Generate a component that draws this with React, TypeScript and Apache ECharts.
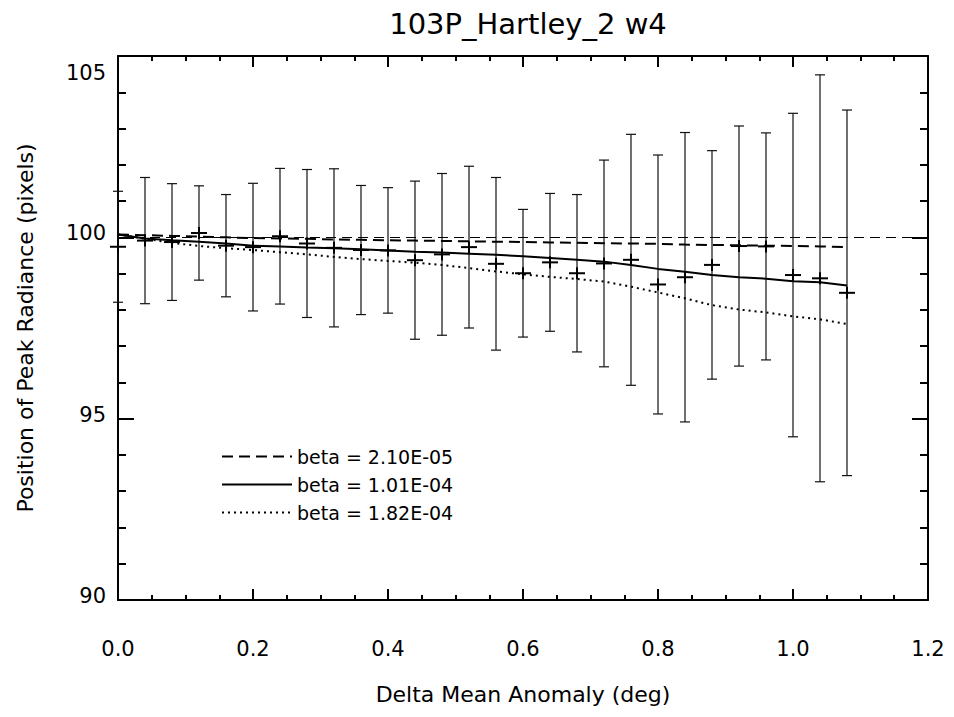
import React, { useEffect, useRef } from "react";
import * as echarts from "echarts";

// ---- Data ----
const deltaMeanAnomaly = [
  0.0, 0.04, 0.08, 0.12, 0.16, 0.2, 0.24, 0.28, 0.32, 0.36, 0.4, 0.44, 0.48, 0.52,
  0.56, 0.6, 0.64, 0.68, 0.72, 0.76, 0.8, 0.84, 0.88, 0.92, 0.96, 1.0, 1.04, 1.08,
];
const peakPosition = [
  99.74, 99.91, 99.87, 100.12, 99.77, 99.73, 100.03, 99.83, 99.71, 99.65, 99.64, 99.37,
  99.53, 99.73, 99.27, 99.01, 99.31, 99.01, 99.28, 99.38, 98.7, 98.9, 99.24, 99.76,
  99.75, 98.96, 98.87, 98.47,
];
const peakError = [
  1.53, 1.74, 1.61, 1.3, 1.41, 1.76, 1.87, 2.04, 2.18, 1.78, 1.73, 2.18, 2.23, 2.23,
  2.38, 1.76, 1.9, 2.17, 2.85, 3.46, 3.57, 3.99, 3.15, 3.31, 3.13, 4.46, 5.61, 5.04,
];
const modelBetaLow = [
  100.08, 100.06, 100.04, 100.02, 100.0, 99.98, 99.97, 99.96, 99.94, 99.93, 99.92, 99.91,
  99.9, 99.89, 99.88, 99.87, 99.86, 99.85, 99.84, 99.83, 99.82, 99.8, 99.79, 99.78,
  99.77, 99.76, 99.75, 99.73,
];
const modelBetaMid = [
  100.08, 99.97, 99.92, 99.88, 99.83, 99.77, 99.75, 99.72, 99.7, 99.67, 99.64, 99.6,
  99.58, 99.55, 99.52, 99.48, 99.43, 99.38, 99.33, 99.24, 99.13, 99.05, 98.96, 98.9,
  98.86, 98.79, 98.76, 98.67,
];
const modelBetaHigh = [
  100.08, 99.96, 99.85, 99.76, 99.7, 99.65, 99.59, 99.53, 99.46, 99.4, 99.35, 99.3,
  99.24, 99.15, 99.06, 98.98, 98.91, 98.85, 98.78, 98.64, 98.48, 98.32, 98.13, 98.01,
  97.93, 97.82, 97.74, 97.61,
];
const seriesNames = ["beta = 2.10E-05", "beta = 1.01E-04", "beta = 1.82E-04"];
const referenceLevel = 100;
const chartTitle = "103P_Hartley_2 w4";
const xAxisTitle = "Delta Mean Anomaly (deg)";
const yAxisTitle = "Position of Peak Radiance (pixels)";
const xRange = [0, 1.2];
const yRange = [90, 105];

const FONT = "'DejaVu Sans', 'Noto Sans', sans-serif";
const BLACK = "#000";

const axisLine = { onZero: false, lineStyle: { color: BLACK, width: 2 } };

function makeXAxis(position: "bottom" | "top", showLabels: boolean) {
  return {
    type: "value",
    position,
    min: xRange[0],
    max: xRange[1],
    interval: 0.2,
    axisLine,
    axisTick: { show: true, inside: true, length: 11, lineStyle: { color: BLACK, width: 2 } },
    minorTick: { show: true, splitNumber: 4, length: 5, lineStyle: { color: BLACK, width: 2 } },
    splitLine: { show: false },
    minorSplitLine: { show: false },
    axisLabel: {
      show: showLabels,
      margin: 38,
      formatter: (v: number) => v.toFixed(1),
      fontSize: 21,
      fontFamily: FONT,
      color: BLACK,
    },
    ...(showLabels
      ? {
          name: xAxisTitle,
          nameLocation: "middle",
          nameGap: 83,
          nameTextStyle: { fontSize: 22, fontFamily: FONT, color: BLACK },
        }
      : {}),
  };
}

function makeYAxis(position: "left" | "right", showLabels: boolean) {
  return {
    type: "value",
    position,
    min: yRange[0],
    max: yRange[1],
    interval: 5,
    axisLine,
    axisTick: { show: true, inside: true, length: 16, lineStyle: { color: BLACK, width: 2 } },
    minorTick: { show: true, splitNumber: 5, length: 8, lineStyle: { color: BLACK, width: 2 } },
    splitLine: { show: false },
    minorSplitLine: { show: false },
    axisLabel: {
      show: showLabels,
      margin: 12,
      formatter: (v: number) => (v === yRange[1] ? `{top|${v}}` : `{std|${v}}`),
      rich: {
        top: { fontSize: 21, fontFamily: FONT, color: BLACK, padding: [34, 0, 0, 0] },
        std: { fontSize: 21, fontFamily: FONT, color: BLACK, padding: [0, 0, 8, 0] },
      },
    },
    ...(showLabels
      ? {
          name: yAxisTitle,
          nameLocation: "middle",
          nameGap: 82,
          nameTextStyle: { fontSize: 22, fontFamily: FONT, color: BLACK },
        }
      : {}),
  };
}

function lineSeries(name: string, values: number[], type: any, extra: any = {}) {
  return {
    name,
    type: "line",
    xAxisIndex: 0,
    yAxisIndex: 0,
    symbol: "none",
    showSymbol: false,
    itemStyle: { color: BLACK },
    lineStyle: { color: BLACK, width: 2, type },
    data: deltaMeanAnomaly.map((x, i) => [x, values[i]]),
    z: 4,
    ...extra,
  };
}

function renderErrorBar(params: any, api: any) {
  const x = api.value(0);
  const v = api.value(1);
  const e = api.value(2);
  const top = api.coord([x, v + e]);
  const bot = api.coord([x, v - e]);
  const c = api.coord([x, v]);
  const thin = { stroke: "#111", lineWidth: 1.2 };
  const thick = { stroke: BLACK, lineWidth: 2 };
  return {
    type: "group",
    children: [
      { type: "line", shape: { x1: top[0], y1: top[1], x2: bot[0], y2: bot[1] }, style: thin },
      { type: "line", shape: { x1: top[0] - 5, y1: top[1], x2: top[0] + 5, y2: top[1] }, style: thin },
      { type: "line", shape: { x1: bot[0] - 5, y1: bot[1], x2: bot[0] + 5, y2: bot[1] }, style: thin },
      { type: "line", shape: { x1: c[0] - 8, y1: c[1], x2: c[0] + 8, y2: c[1] }, style: thick },
      { type: "line", shape: { x1: c[0], y1: c[1] - 6, x2: c[0], y2: c[1] + 6 }, style: thick },
    ],
  };
}

export default function App() {
  const ref = useRef<HTMLDivElement>(null);

  useEffect(() => {
    if (!ref.current) return;
    const chart = echarts.init(ref.current, null, { renderer: "svg" });
    const option: any = {
      animation: false,
      backgroundColor: "#fff",
      title: {
        text: chartTitle,
        left: 523,
        top: 4,
        textAlign: "center",
        textStyle: { fontSize: 29, fontWeight: "normal", fontFamily: FONT, color: BLACK },
      },
      grid: { left: 118, top: 56, right: 26, bottom: 117, containLabel: false },
      legend: {
        data: seriesNames,
        orient: "vertical",
        left: 216,
        top: 442,
        itemWidth: 70,
        itemHeight: 14,
        itemGap: 9,
        selectedMode: false,
        itemStyle: { color: "rgba(0,0,0,0)", borderWidth: 0, opacity: 0 },
        textStyle: { fontSize: 19, fontFamily: FONT, color: BLACK },
      },
      xAxis: [makeXAxis("bottom", true), makeXAxis("top", false)],
      yAxis: [makeYAxis("left", true), makeYAxis("right", false)],
      series: [
        {
          name: "Peak radiance",
          type: "custom",
          xAxisIndex: 0,
          yAxisIndex: 0,
          renderItem: renderErrorBar,
          encode: { x: 0, y: 1 },
          data: deltaMeanAnomaly.map((x, i) => [x, peakPosition[i], peakError[i]]),
          z: 3,
        },
        lineSeries(seriesNames[0], modelBetaLow, [11, 6], {
          markLine: {
            silent: true,
            symbol: ["none", "none"],
            label: { show: false },
            lineStyle: { color: BLACK, width: 1, type: [10, 6] },
            data: [{ yAxis: referenceLevel }],
          },
        }),
        lineSeries(seriesNames[1], modelBetaMid, "solid"),
        lineSeries(seriesNames[2], modelBetaHigh, [2, 4]),
      ],
    };
    chart.setOption(option);
    return () => chart.dispose();
  }, []);

  return (
    <div
      ref={ref}
      style={{ position: "fixed", left: 0, top: 0, width: 954, height: 717, background: "#fff" }}
    />
  );
}
